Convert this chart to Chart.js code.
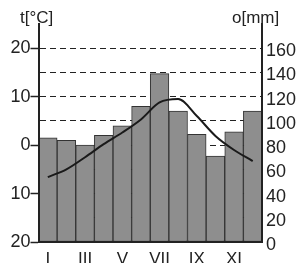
<!DOCTYPE html>
<html>
<head>
<meta charset="utf-8">
<script src="https://cdn.jsdelivr.net/npm/chart.js@4/dist/chart.umd.min.js"></script>
<style>
  body { margin: 0; background: #fff; }
  #wrap { position: relative; width: 296px; height: 263px; }
  .ttl { position: absolute; font: 17px/17px "Liberation Sans", Arial, sans-serif; color: #222; }
</style>
</head>
<body>
<div id="wrap">
  <canvas id="climate" width="296" height="263"></canvas>
  <div class="ttl" style="left:20px;top:9px">t[°C]</div>
  <div class="ttl" style="left:232px;top:9px">o[mm]</div>
</div>
<script>
const MONTHS = ['I','II','III','IV','V','VI','VII','VIII','IX','X','XI','XII'];
const PRECIP = [86, 84, 80, 88, 96, 112, 139, 108, 89, 71, 91, 108];   // mm
const TEMP   = [-6.6, -5.0, -2.5, 0.2, 2.6, 5.3, 8.8, 9.5, 6.0, 1.9, -1.0, -3.3]; // °C
const TEMP_LABELS   = [-20, -10, 0, 10, 20];
const PRECIP_LABELS = [0, 20, 40, 60, 80, 100, 120, 140, 160];

const INK = '#222';
const FONT = { family: 'Liberation Sans', size: 18 };

new Chart(document.getElementById('climate'), {
  data: {
    labels: MONTHS,
    datasets: [{
      type: 'line',
      data: TEMP,
      yAxisID: 'yT',
      borderColor: '#1a1a1a',
      borderWidth: 2,
      pointRadius: 0,
      cubicInterpolationMode: 'monotone',
      fill: false,
      order: 0
    }, {
      type: 'bar',
      data: PRECIP,
      yAxisID: 'yP',
      backgroundColor: '#8e8e8e',
      borderColor: '#333',
      borderWidth: 1,
      borderSkipped: false,
      barPercentage: 1,
      categoryPercentage: 1,
      order: 1
    }]
  },
  options: {
    responsive: false,
    animation: false,
    layout: { padding: { top: 24, left: 0, right: 0, bottom: 0 } },
    plugins: { legend: { display: false }, tooltip: { enabled: false } },
    scales: {
      x: {
        grid: { display: false, drawTicks: false },
        border: { display: true, color: INK, width: 2, z: 1 },
        ticks: {
          color: INK,
          font: { family: 'Liberation Sans', size: 17 },
          padding: 7,
          autoSkip: false,
          maxRotation: 0,
          callback: (v, i) => i % 2 === 0 ? MONTHS[i] : ''
        },
        afterFit: s => { s.height = 21; }
      },
      yT: {
        position: 'left',
        min: -20,
        max: 25,
        grid: {
          color: c => (c.tick.value === 25 || c.tick.value === -20) ? 'rgba(0,0,0,0)' : INK,
          lineWidth: 1,
          tickLength: 8,
          tickWidth: 1.5,
          tickColor: c => TEMP_LABELS.includes(c.tick.value) ? INK : 'rgba(0,0,0,0)'
        },
        border: { display: true, color: INK, width: 2, dash: [6, 4], z: 1 },
        ticks: {
          stepSize: 5,
          autoSkip: false,
          color: INK,
          font: FONT,
          padding: 0,
          callback: v => TEMP_LABELS.includes(v) ? String(Math.abs(v)) : ''
        },
        afterFit: s => { s.width = 38.5; }
      },
      yP: {
        position: 'right',
        min: 0,
        max: 180,
        grid: {
          drawOnChartArea: false,
          tickLength: 4,
          tickColor: 'rgba(0,0,0,0)'
        },
        border: { display: true, color: INK, width: 2, z: 1 },
        ticks: {
          stepSize: 20,
          autoSkip: false,
          color: INK,
          font: FONT,
          padding: 0,
          labelOffset: 3,
          callback: v => PRECIP_LABELS.includes(v) ? String(v) : ''
        },
        afterFit: s => { s.width = 34; }
      }
    }
  }
});
</script>
</body>
</html>
